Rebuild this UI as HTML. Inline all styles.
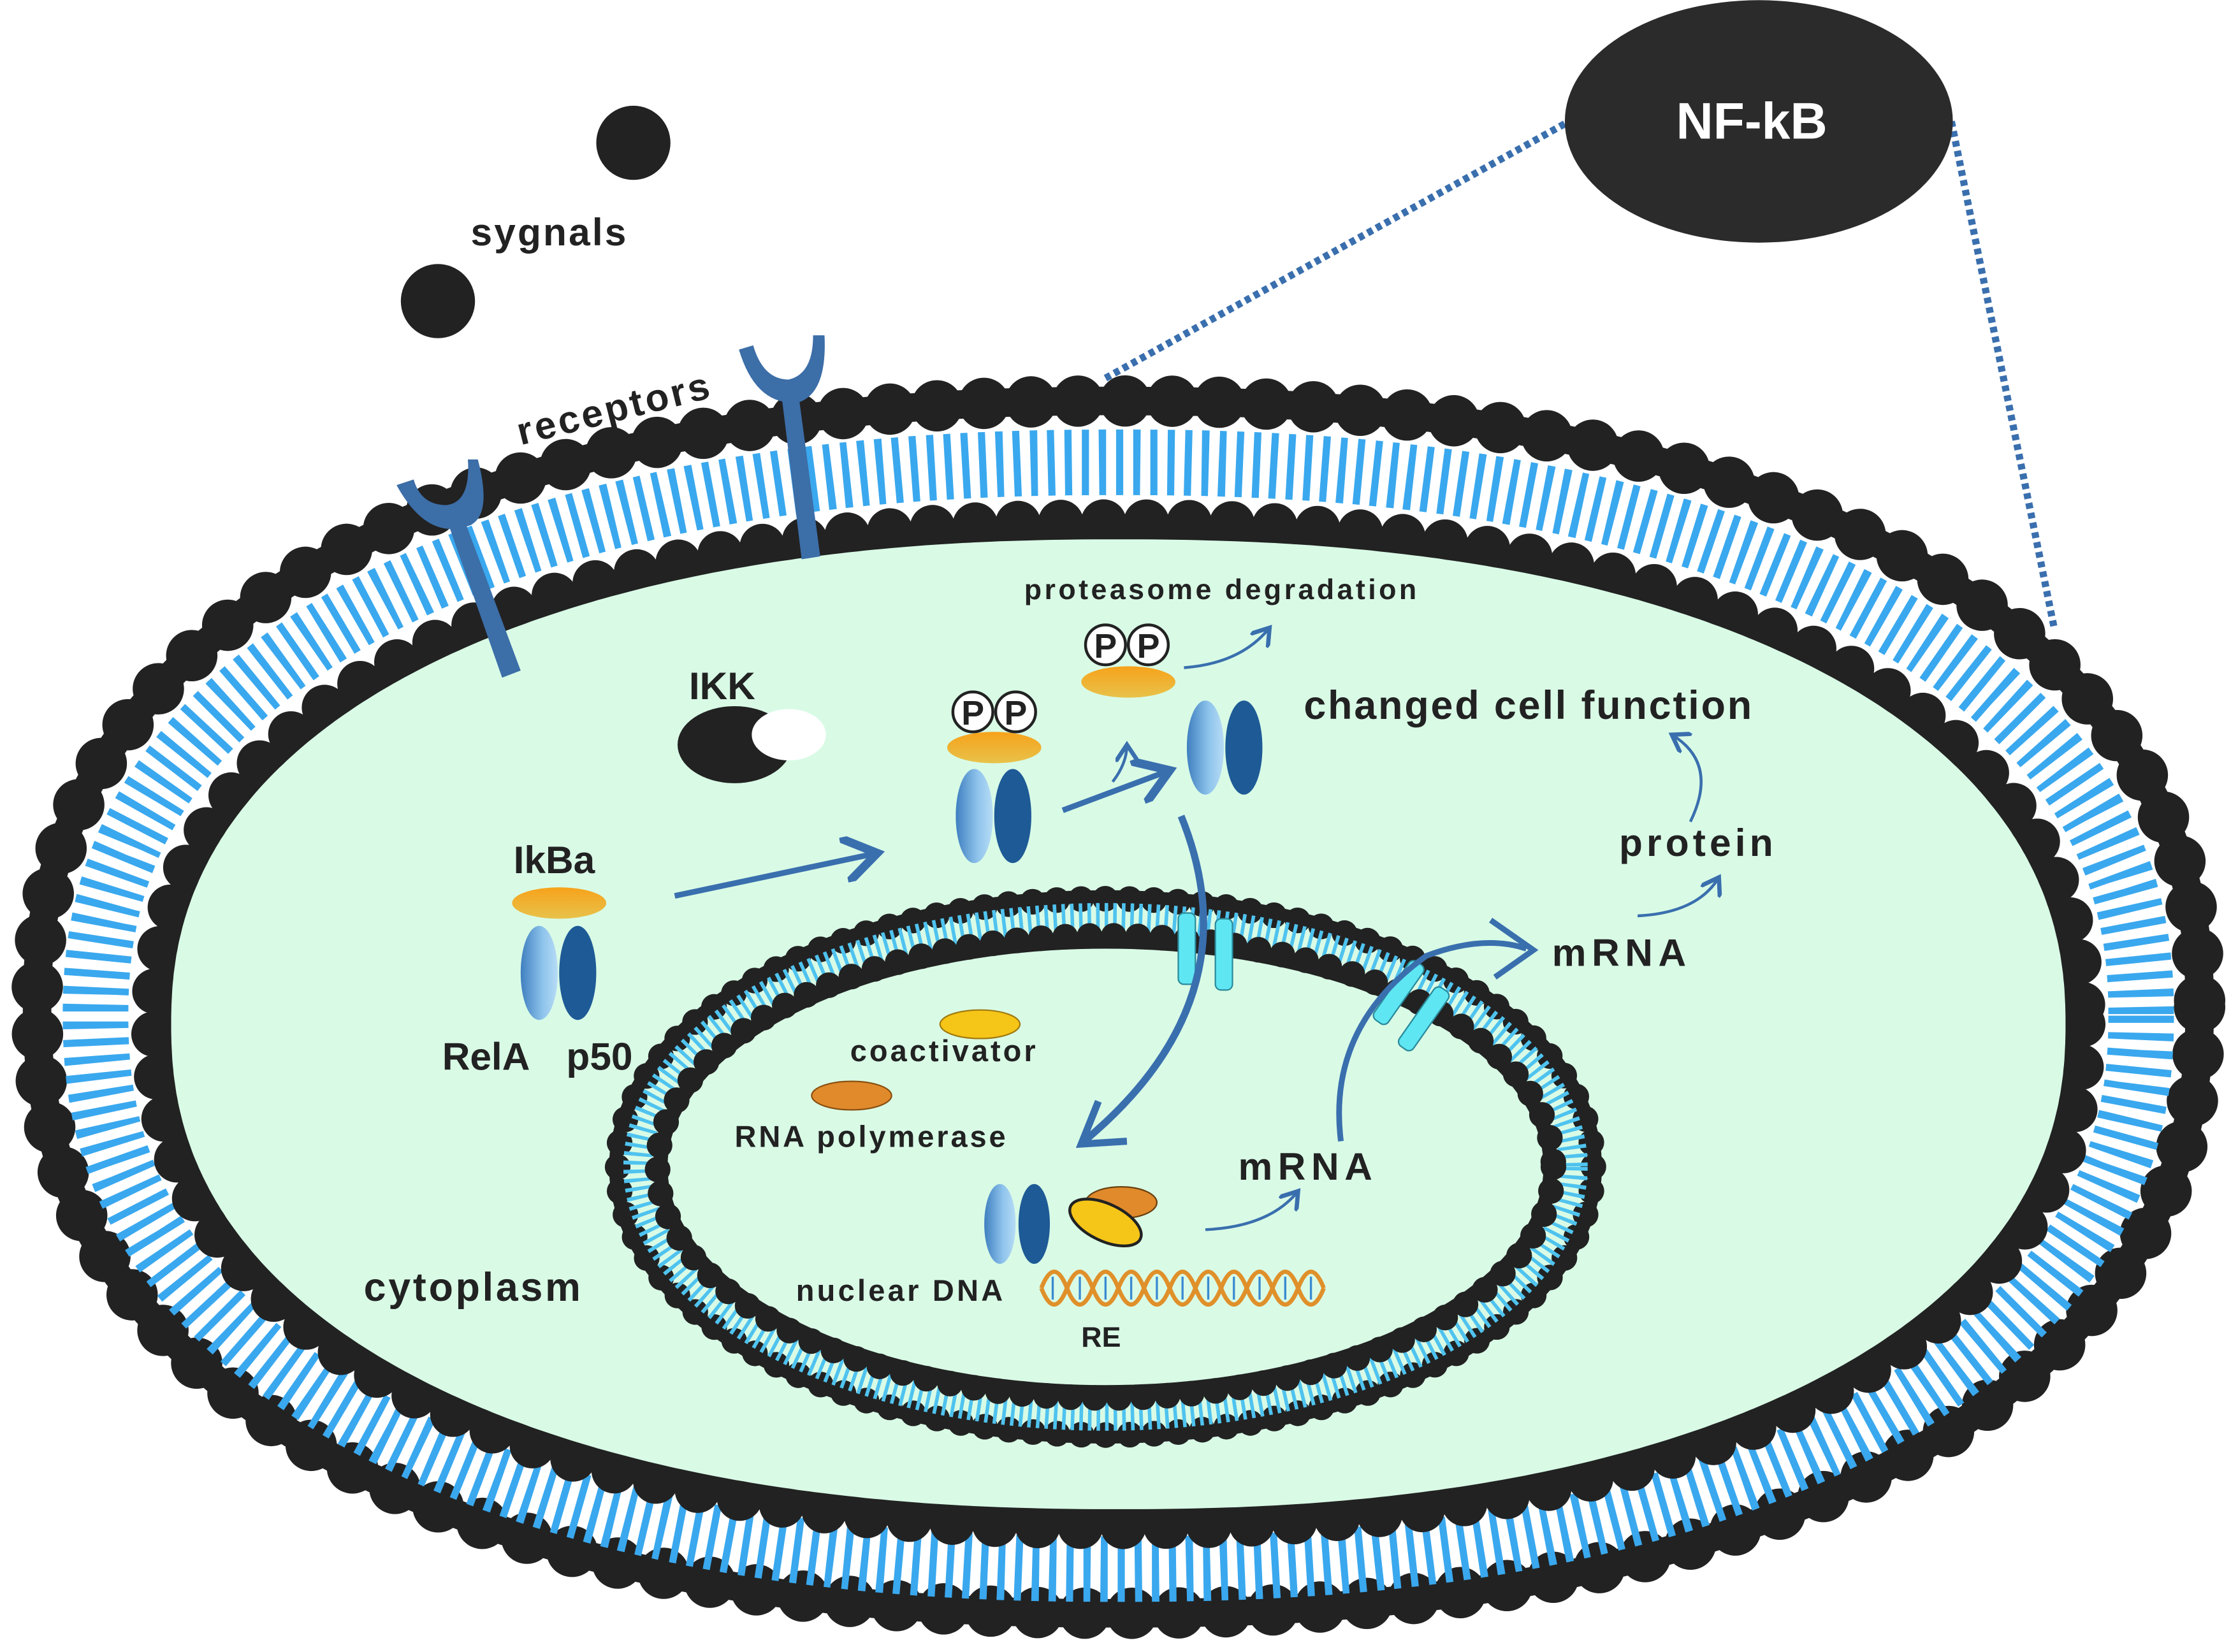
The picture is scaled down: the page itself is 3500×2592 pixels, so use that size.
<!DOCTYPE html>
<html><head><meta charset="utf-8"><style>html,body{margin:0;padding:0;background:#fff}svg{display:block}text{font-family:"Liberation Sans",sans-serif;font-weight:bold;fill:#222}</style></head>
<body>
<svg id="s" width="3500" height="2592" viewBox="0 0 1564 1158" xmlns="http://www.w3.org/2000/svg">
<defs>
<linearGradient id="og" x1="0" y1="0" x2="0" y2="1"><stop offset="0" stop-color="#f7a21b"/><stop offset="1" stop-color="#e8c24a"/></linearGradient>
<linearGradient id="rl" x1="0" y1="0" x2="1" y2="0"><stop offset="0" stop-color="#3f7fc0"/><stop offset="0.6" stop-color="#8fc4ec"/><stop offset="1" stop-color="#b7dcf5"/></linearGradient>
<marker id="ah" markerWidth="8" markerHeight="8" refX="6" refY="4" orient="auto" markerUnits="strokeWidth"><path d="M0,0 L6,4 L0,8" fill="none" stroke="#3a6fae" stroke-width="1.5"/></marker>
</defs>
<path id="p_out" d="" fill="none" stroke="#222" stroke-width="20"/>
<path id="p_outh" d="" fill="none" stroke="#222" stroke-width="36" stroke-dasharray="0 33" stroke-linecap="round"/>
<path id="p_tail" d="" fill="none" stroke="#3aa8ee" stroke-width="46" stroke-dasharray="5 7"/>
<path id="p_inh" d="" fill="none" stroke="#222" stroke-width="32" stroke-dasharray="0 30" stroke-linecap="round"/>
<path id="p_in" d="" fill="#d9fbe6" stroke="#222" stroke-width="16"/>
<!-- nucleus -->
<ellipse cx="775" cy="818" rx="342" ry="188" fill="none" stroke="#222" stroke-width="18" stroke-dasharray="0 17" stroke-linecap="round"/>
<ellipse cx="775" cy="818" rx="328" ry="175" fill="none" stroke="#4fc3ef" stroke-width="20" stroke-dasharray="2.5 3.5"/>
<ellipse cx="775" cy="818" rx="314" ry="162" fill="none" stroke="#222" stroke-width="18" stroke-dasharray="0 17" stroke-linecap="round"/>
<ellipse cx="775" cy="818" rx="312" ry="158" fill="none" stroke="#222" stroke-width="10"/>
<ellipse cx="775" cy="818" rx="344" ry="190" fill="none" stroke="#222" stroke-width="8"/>
<!-- pores -->
<rect x="826" y="640" width="12" height="50" rx="4" fill="#5fe6f3" stroke="#2a8a9a"/><rect x="852" y="644" width="12" height="50" rx="4" fill="#5fe6f3" stroke="#2a8a9a"/>
<g transform="rotate(35 985 705)"><rect x="970" y="675" width="12" height="50" rx="4" fill="#5fe6f3" stroke="#2a8a9a"/><rect x="995" y="680" width="12" height="50" rx="4" fill="#5fe6f3" stroke="#2a8a9a"/></g>
<!-- signals -->
<circle cx="444" cy="100" r="26" fill="#222"/><circle cx="307" cy="211" r="26" fill="#222"/>
<text x="330" y="172" font-size="27" textLength="109">sygnals</text>
<text x="365" y="312" font-size="27" transform="rotate(-14 365 312)" textLength="138">receptors</text>
<!-- receptors -->
<g fill="#3c6ea8" stroke="none">
<path d="M310,355 L322,355 L365,470 L352,475 Z"/>
<path d="M278,340 Q300,380 330,368 Q345,360 335,322 L328,322 Q330,352 313,354 Q295,354 290,336 Z"/>
<path d="M548,278 L560,278 L575,390 L562,392 Z"/>
<path d="M518,245 Q530,285 560,282 Q580,275 578,235 L570,235 Q570,262 553,266 Q535,266 528,242 Z"/>
</g>
<!-- NF-kB -->
<line x1="775" y1="265" x2="1100" y2="85" stroke="#3a6fae" stroke-width="5" stroke-dasharray="4 3"/>
<line x1="1368" y1="85" x2="1440" y2="440" stroke="#3a6fae" stroke-width="5" stroke-dasharray="4 3"/>
<ellipse cx="1233" cy="85" rx="136" ry="85" fill="#2b2b2b"/>
<text x="1228" y="97" font-size="36" text-anchor="middle" style="fill:#fff">NF-kB</text>
<!-- IKK -->
<text x="483" y="490" font-size="27">IKK</text>
<ellipse cx="515" cy="522" rx="40" ry="27" fill="#222"/><ellipse cx="553" cy="515" rx="26" ry="18" fill="#fff"/>
<!-- IkBa complex -->
<text x="360" y="612" font-size="27">IkBa</text>
<ellipse cx="392" cy="633" rx="33" ry="11" fill="url(#og)"/>
<ellipse cx="378" cy="682" rx="13" ry="33" fill="url(#rl)"/><ellipse cx="405" cy="682" rx="13" ry="33" fill="#1e5a96"/>
<text x="310" y="750" font-size="27">RelA</text><text x="397" y="750" font-size="27">p50</text>
<line x1="473" y1="628" x2="615" y2="598" stroke="#3a6fae" stroke-width="4" marker-end="url(#ah)"/>
<!-- PP complex -->
<circle cx="682" cy="499" r="14" fill="#fff" stroke="#222" stroke-width="2"/><text x="682" y="508" font-size="24" text-anchor="middle">P</text>
<circle cx="712" cy="499" r="14" fill="#fff" stroke="#222" stroke-width="2"/><text x="712" y="508" font-size="24" text-anchor="middle">P</text>
<ellipse cx="697" cy="524" rx="33" ry="11" fill="url(#og)"/>
<ellipse cx="683" cy="572" rx="13" ry="33" fill="url(#rl)"/><ellipse cx="710" cy="572" rx="13" ry="33" fill="#1e5a96"/>
<line x1="745" y1="568" x2="820" y2="540" stroke="#3a6fae" stroke-width="4" marker-end="url(#ah)"/>
<path d="M780,548 Q790,535 790,522" fill="none" stroke="#3a6fae" stroke-width="2" marker-end="url(#ah)"/>
<circle cx="775" cy="452" r="14" fill="#fff" stroke="#222" stroke-width="2"/><text x="775" y="461" font-size="24" text-anchor="middle">P</text>
<circle cx="805" cy="452" r="14" fill="#fff" stroke="#222" stroke-width="2"/><text x="805" y="461" font-size="24" text-anchor="middle">P</text>
<ellipse cx="791" cy="478" rx="33" ry="11" fill="url(#og)"/>
<path d="M830,468 Q870,465 890,440" fill="none" stroke="#3a6fae" stroke-width="2" marker-end="url(#ah)"/>
<text x="718" y="420" font-size="20" textLength="275">proteasome degradation</text>
<ellipse cx="845" cy="524" rx="13" ry="33" fill="url(#rl)"/><ellipse cx="872" cy="524" rx="13" ry="33" fill="#1e5a96"/>
<text x="914" y="504" font-size="28" textLength="314">changed cell function</text>
<!-- arrow into nucleus -->
<path d="M828,572 Q880,700 760,800" fill="none" stroke="#3a6fae" stroke-width="5"/>
<path d="M790,800 L758,802 L770,772" fill="none" stroke="#3a6fae" stroke-width="5"/>
<!-- nucleus contents -->
<ellipse cx="687" cy="718" rx="28" ry="10" fill="#f5c518" stroke="#a07a10"/>
<text x="596" y="744" font-size="21" textLength="130">coactivator</text>
<ellipse cx="597" cy="768" rx="28" ry="10" fill="#e08a2c" stroke="#8a5010"/>
<text x="515" y="804" font-size="21" textLength="190">RNA polymerase</text>
<ellipse cx="701" cy="858" rx="11" ry="28" fill="url(#rl)"/><ellipse cx="725" cy="858" rx="11" ry="28" fill="#1e5a96"/>
<ellipse cx="786" cy="843" rx="25" ry="11" fill="#e08a2c" stroke="#6a4010"/>
<ellipse cx="775" cy="857" rx="27" ry="13" fill="#f5c518" stroke="#222" stroke-width="2" transform="rotate(25 775 857)"/>
<text x="558" y="912" font-size="21" textLength="145">nuclear DNA</text>
<g stroke="#e0902a" stroke-width="3" fill="none">
<path d="M730,903 Q739,880 748,903 T766,903 T784,903 T802,903 T820,903 T838,903 T856,903 T874,903 T892,903 T910,903 T928,903"/>
<path d="M730,903 Q739,926 748,903 T766,903 T784,903 T802,903 T820,903 T838,903 T856,903 T874,903 T892,903 T910,903 T928,903"/>
</g>
<g stroke="#3a8ad0" stroke-width="1.5"><path d="M738,895v16M757,895v16M775,895v16M793,895v16M811,895v16M829,895v16M847,895v16M865,895v16M883,895v16M901,895v16M919,895v16"/></g>
<text x="758" y="944" font-size="20">RE</text>
<path d="M845,862 Q890,860 910,835" fill="none" stroke="#3a6fae" stroke-width="2" marker-end="url(#ah)"/>
<text x="868" y="827" font-size="27" textLength="94">mRNA</text>
<path d="M940,800 Q930,720 1000,670 Q1040,655 1070,665" fill="none" stroke="#3a6fae" stroke-width="4"/>
<path d="M1045,645 L1075,666 L1048,685" fill="none" stroke="#3a6fae" stroke-width="4"/>
<text x="1088" y="677" font-size="27" textLength="94">mRNA</text>
<path d="M1148,642 Q1190,640 1205,615" fill="none" stroke="#3a6fae" stroke-width="2" marker-end="url(#ah)"/>
<text x="1135" y="600" font-size="27" textLength="108">protein</text>
<path d="M1185,576 Q1205,535 1172,515" fill="none" stroke="#3a6fae" stroke-width="2" marker-end="url(#ah)"/>
<text x="255" y="912" font-size="28" textLength="152">cytoplasm</text>
</svg>
<script>
function se(cx,cy,rx,ry,n){var d="",N=720;for(var i=0;i<=N;i++){var t=i/N*2*Math.PI,c=Math.cos(t),s=Math.sin(t);var x=cx+rx*Math.sign(c)*Math.pow(Math.abs(c),2/n),y=cy+ry*Math.sign(s)*Math.pow(Math.abs(s),2/n);d+=(i?"L":"M")+x.toFixed(1)+","+y.toFixed(1);}return d+"Z";}
var cx=784,n=2.25;
document.getElementById("p_out").setAttribute("d",se(cx,706,758,425,n));
document.getElementById("p_outh").setAttribute("d",se(cx,706,758,425,n));
document.getElementById("p_tail").setAttribute("d",se(cx,712,717,388,n));
document.getElementById("p_inh").setAttribute("d",se(cx,718,676,352,n));
document.getElementById("p_in").setAttribute("d",se(cx,718,672,348,n));
</script>
</body></html>
